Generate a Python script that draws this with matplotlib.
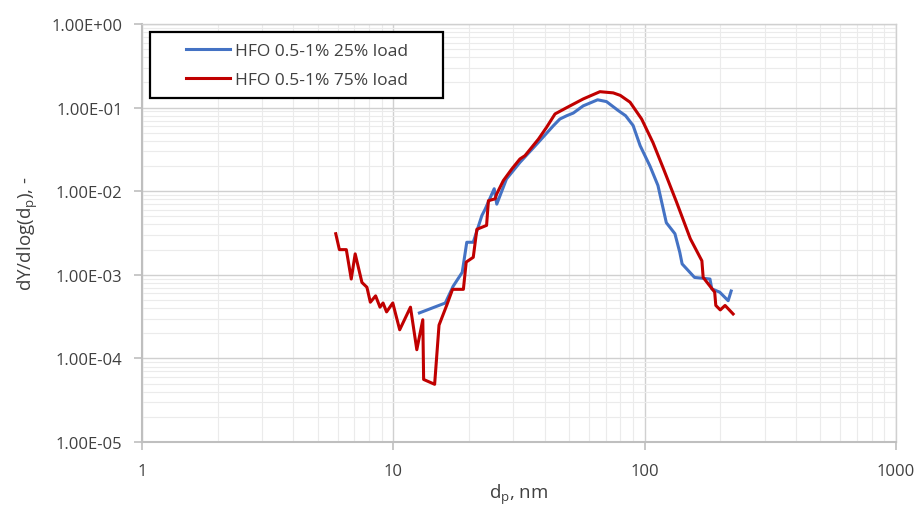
import matplotlib
matplotlib.use('Agg')
import matplotlib.pyplot as plt
from matplotlib.patches import Rectangle
from matplotlib.ticker import LogLocator, FixedLocator, FuncFormatter, NullFormatter

plt.rcParams['font.family'] = ['Open Sans', 'DejaVu Sans']
plt.rcParams['mathtext.default'] = 'regular'

# particle size distribution
d_25 = [12.7, 16.1, 17.3, 18.8, 19.6, 20.8, 22.5, 23.2, 25.2, 25.8, 28.2, 31.9,
        37.8, 43.4, 46, 49, 52, 57, 60, 65, 70.5, 78.6, 84, 90, 96, 105, 113,
        122, 132, 138, 141, 158, 182, 185, 199, 215, 221]
y_25 = [3.5e-4, 4.6e-4, 7.3e-4, 1.07e-3, 2.45e-3, 2.45e-3, 5.1e-3, 6.1e-3, 1.07e-2,
        7.0e-3, 0.014, 0.0221, 0.0385, 0.061, 0.073, 0.080, 0.086, 0.105, 0.112,
        0.124, 0.118, 0.092, 0.080, 0.061, 0.035, 0.020, 0.0117, 4.2e-3, 3.1e-3,
        1.86e-3, 1.35e-3, 9.3e-4, 8.9e-4, 6.8e-4, 6.2e-4, 4.9e-4, 6.4e-4]

d_75 = [5.9, 6.1, 6.5, 6.8, 7.05, 7.5, 7.85, 8.1, 8.5, 8.85, 9.1, 9.4, 9.95, 10.6,
        11.7, 12.4, 13.1, 13.2, 14.6, 15.2, 16.3, 17.2, 19.0, 19.5, 20.8, 21.5,
        22.5, 23.5, 23.9, 25.4, 25.8, 27.4, 29.6, 31.9, 33.4, 37.8, 40.7, 44.0,
        49.0, 57.0, 66.4, 75.0, 80.0, 87.5, 97.3, 108, 119, 134, 152, 169, 171,
        190, 192, 200, 209, 225]
y_75 = [3.1e-3, 2.0e-3, 2.0e-3, 8.9e-4, 1.78e-3, 8.1e-4, 7.1e-4, 4.7e-4, 5.6e-4,
        4.1e-4, 4.6e-4, 3.6e-4, 4.6e-4, 2.2e-4, 4.1e-4, 1.27e-4, 2.9e-4, 5.6e-5,
        4.9e-5, 2.5e-4, 4.3e-4, 6.7e-4, 6.7e-4, 1.42e-3, 1.62e-3, 3.5e-3, 3.7e-3,
        3.9e-3, 7.7e-3, 8.1e-3, 9.3e-3, 0.0134, 0.0184, 0.0243, 0.0266, 0.042,
        0.058, 0.084, 0.10, 0.127, 0.155, 0.150, 0.140, 0.116, 0.073, 0.038,
        0.0184, 7.4e-3, 2.7e-3, 1.47e-3, 9.3e-4, 6.2e-4, 4.3e-4, 3.8e-4, 4.3e-4,
        3.4e-4]

labels = ['HFO 0.5-1% 25% load', 'HFO 0.5-1% 75% load']
colors = ['#4472C4', '#C00000']
x_ticks = [1, 10, 100, 1000]
y_ticks = [1e-5, 1e-4, 1e-3, 1e-2, 1e-1, 1e0]

fig = plt.figure(figsize=(9.17, 5.06), dpi=100)
ax = fig.add_axes([0.1549, 0.1245, 0.977 - 0.1549, 0.9506 - 0.1245])

ax.plot(d_25, y_25, color=colors[0], lw=2.2, label=labels[0])
ax.plot(d_75, y_75, color=colors[1], lw=2.2, label=labels[1])

ax.set_xscale('log')
ax.set_yscale('log')
ax.set_xlim(1, 1000)
ax.set_ylim(1e-5, 1)

ax.xaxis.set_major_locator(FixedLocator(x_ticks))
ax.yaxis.set_major_locator(FixedLocator(y_ticks))
ax.xaxis.set_minor_locator(LogLocator(base=10, subs=range(2, 10), numticks=20))
ax.yaxis.set_minor_locator(LogLocator(base=10, subs=range(2, 10), numticks=20))
ax.xaxis.set_minor_formatter(NullFormatter())
ax.yaxis.set_minor_formatter(NullFormatter())
ax.xaxis.set_major_formatter(FuncFormatter(lambda v, p: '%d' % v))
ax.yaxis.set_major_formatter(FuncFormatter(lambda v, p: '%.2E' % v))

ax.grid(True, which='major', color='#d0d0d0', lw=1.0)
ax.grid(True, which='minor', color='#ebebeb', lw=0.8)
ax.set_axisbelow(True)

for s in ['left', 'bottom']:
    ax.spines[s].set_color('#bfbfbf')
    ax.spines[s].set_linewidth(1.5)
for s in ['top', 'right']:
    ax.spines[s].set_color('#d0d0d0')
    ax.spines[s].set_linewidth(1.0)

ax.tick_params(which='major', direction='out', length=6, width=1.2, color='#bfbfbf',
               labelsize=12, labelcolor='#404040', pad=8)
ax.tick_params(which='minor', length=0)
ax.tick_params(axis='x', pad=9)

ax.set_xlabel('d$_p$, nm', fontsize=13.5, color='#404040', labelpad=2)
ax.set_ylabel('dY/dlog(d$_p$), -', fontsize=13.5, color='#404040', labelpad=8)

# legend frame drawn separately so the padding matches the original box
ax.add_patch(Rectangle((0.0106, 0.823), 0.3886, 0.158, transform=ax.transAxes,
                       fill=True, facecolor='white', edgecolor='black', lw=1.6,
                       zorder=4))
leg = ax.legend(loc='center', bbox_to_anchor=(0.2056, 0.9007), fontsize=12.5,
                frameon=False, handlelength=2.5, handletextpad=0.3,
                borderpad=0, labelspacing=0.75, borderaxespad=0)
leg.set_zorder(5)
for t in leg.get_texts():
    t.set_color('#404040')

plt.savefig('out.png', dpi=100)
